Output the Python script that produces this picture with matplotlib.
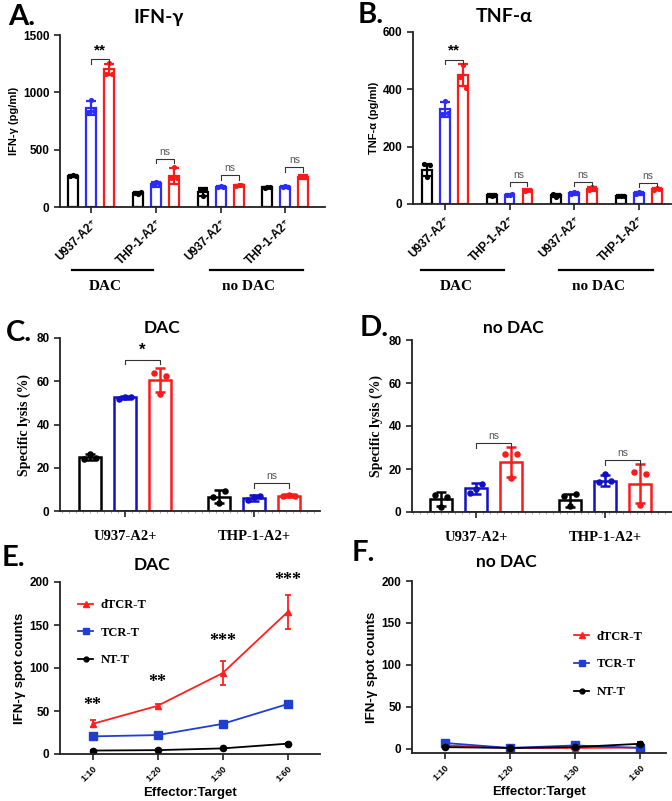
import numpy as np
import matplotlib.pyplot as plt
from matplotlib.lines import Line2D

W, H = 672, 801

SANS = ['Liberation Sans', 'DejaVu Sans']
SERIF = ['Liberation Serif', 'DejaVu Serif']
TITLE = ['Lato', 'DejaVu Sans']

# ---------- data ----------
groups = ['DAC', 'no DAC']
cells_ab = ['U937-A2⁺', 'THP-1-A2⁺', 'U937-A2⁺', 'THP-1-A2⁺']
cells_cd = ['U937-A2+', 'THP-1-A2+']
series = ['NT-T', 'TCR-T', 'dTCR-T']

# A: IFN-g (pg/ml); rows = cell groups, cols = NT-T, TCR-T, dTCR-T
ifn_mean = np.array([[272, 865, 1200], [123, 200, 270], [130, 178, 188], [172, 178, 262]])
ifn_err = np.array([[10, 60, 50], [12, 22, 70], [35, 6, 6], [6, 6, 15]])
ifn_dots = np.array([
    [[268, 280, 270], [832, 930, 840], [1159, 1252, 1160]],
    [[125, 115, 130], [195, 220, 205], [252, 350, 255]],
    [[160, 93, 157], [176, 180, 178], [186, 190, 188]],
    [[170, 175, 172], [175, 180, 178], [258, 270, 262]],
])

# B: TNF-a (pg/ml)
tnf_mean = np.array([[118, 330, 450], [30, 32, 48], [30, 38, 52], [28, 38, 52]])
tnf_err = np.array([[20, 25, 38], [4, 3, 4], [5, 5, 6], [2, 5, 4]])
tnf_dots = np.array([
    [[138, 95, 135], [315, 358, 318], [443, 484, 406]],
    [[32, 28, 30], [31, 33, 34], [46, 50, 48]],
    [[35, 25, 30], [35, 42, 37], [48, 58, 52]],
    [[28, 28, 28], [35, 42, 38], [50, 55, 52]],
])

# C: specific lysis (%), DAC
lysis_dac_mean = np.array([[25, 52.5, 60.5], [6.5, 6, 7]])
lysis_dac_err = np.array([[1.2, 0.8, 5.5], [3, 1.5, 0.7]])
lysis_dac_dots = np.array([
    [[24.2, 26.3, 24.6], [51.7, 52.8, 52.6], [64, 54, 62.5]],
    [[6.6, 3.5, 9.2], [5, 6.5, 7], [7, 7.5, 6.8]],
])

# D: specific lysis (%), no DAC
lysis_nodac_mean = np.array([[6, 11, 23.3], [5.5, 14.5, 13.2]])
lysis_nodac_err = np.array([[3.3, 2.5, 6.8], [3, 2.5, 9]])
lysis_nodac_dots = np.array([
    [[7.8, 2.3, 7.0], [8.9, 10.5, 13.2], [27.2, 16, 27.2]],
    [[7.3, 2.6, 8.2], [14, 17.5, 14.3], [18.8, 3.1, 17.8]],
])

# E/F: ELISpot IFN-g spot counts
et_ratio = ['1:10', '1:20', '1:30', '1:60']
spot_dac = {
    'dTCR-T': ([35, 56, 94, 165], [4, 2, 14, 20]),
    'TCR-T': ([20.5, 22, 35, 58], [1.5, 2.5, 3, 1.5]),
    'NT-T': ([4, 4.5, 6.5, 12], [0.5, 1.5, 0.5, 0.5]),
}
spot_nodac = {
    'dTCR-T': ([4, 1, 1, 1.5], [1, 0.5, 0.5, 0.5]),
    'TCR-T': ([7, 1, 4, 1], [3, 0.5, 2, 1]),
    'NT-T': ([2, 1, 2, 6], [0.5, 0.5, 0.5, 2]),
}
e_stars = ['**', '**', '***', '***']
e_star_y = [47, 73, 121, 192]

# ---------- figure ----------
fig = plt.figure(figsize=(W / 100, H / 100), dpi=100)


def px_axes(x0, y0, x1, y1):
    return fig.add_axes([x0 / W, 1 - y1 / H, (x1 - x0) / W, (y1 - y0) / H])


def style_axes(ax, fs=8.5):
    for s in ['top', 'right']:
        ax.spines[s].set_visible(False)
    for s in ['left', 'bottom']:
        ax.spines[s].set_linewidth(1.3)
        ax.spines[s].set_color('#222222')
    ax.tick_params(width=1.2, length=4, color='#222222')
    for lab in ax.get_yticklabels():
        lab.set_fontfamily(SANS)
        lab.set_fontweight('bold')
        lab.set_fontsize(fs)


def bars(ax, pos, mean, err, dots, width, cols, lw, ms):
    offs = np.array([-0.28, 0.0, 0.28]) * width
    for j in range(3):
        ax.bar(pos[:, j], mean[:, j], width, facecolor='white', edgecolor=cols[j],
               linewidth=lw, zorder=2)
        ax.errorbar(pos[:, j], mean[:, j], yerr=err[:, j], fmt='none', ecolor=cols[j],
                    elinewidth=lw, capsize=width * 6, capthick=lw, zorder=3)
        for k in range(3):
            ax.scatter(pos[:, j] + offs[k], dots[:, j, k], s=ms, color=cols[j],
                       zorder=4, linewidths=0)


def bracket(ax, x1, x2, y, h, text, fs=7.5, bold=False, color='#555555', family=SANS):
    ax.plot([x1, x1, x2, x2], [y - h, y, y, y - h], color='#333333', lw=0.8, zorder=5)
    ax.annotate(text, xy=((x1 + x2) / 2, y), xytext=(0, 1.5), textcoords='offset points',
                ha='center', va='bottom', fontsize=fs, color=color,
                fontweight='bold' if bold else 'normal', family=family)


def letter(x, y, s):
    fig.text(x / W, 1 - y / H, s, fontsize=21, fontweight='bold', family=TITLE,
             ha='left', va='center')


def title(x, y, s, fs=14):
    fig.text(x / W, 1 - y / H, s, fontsize=fs, fontweight='bold', family=TITLE,
             ha='center', va='center')


# ---------- A / B ----------
colors_ab = ['black', '#2b2bff', '#ff1a1a']
pos_ab = np.arange(4)[:, None] * 3.6 + np.arange(3)[None, :]

for (x0, x1, top, bot, xl, mean, err, dots, yt, ylab, brs, stars) in [
    (60, 325, 35, 207, (-0.72, 14.0), ifn_mean, ifn_err, ifn_dots, [0, 500, 1000, 1500],
     'IFN-γ (pg/ml)', [(420, 'ns'), (275, 'ns'), (345, 'ns')], (1290, 40)),
    (413, 671, 32, 204, (-0.78, 13.6), tnf_mean, tnf_err, tnf_dots, [0, 200, 400, 600],
     'TNF-α (pg/ml)', [(78, 'ns'), (78, 'ns'), (74, 'ns')], (503, 15)),
]:
    ax = px_axes(x0, top, x1, bot)
    bars(ax, pos_ab, mean, err, dots, 0.55, colors_ab, 1.6, 14)
    ax.set_xlim(*xl)
    ax.set_ylim(0, yt[-1])
    ax.set_yticks(yt)
    ax.set_xticks(pos_ab[:, 1])
    ax.set_xticklabels(cells_ab, rotation=45, ha='right', rotation_mode='anchor',
                       fontsize=8.5, fontweight='bold', family=SANS)
    style_axes(ax)
    ax.set_ylabel(ylab, fontsize=8, fontweight='bold', family=SANS, labelpad=3)
    hb = yt[-1] * 0.027
    bracket(ax, pos_ab[0, 1], pos_ab[0, 2], stars[0], hb, '**', fs=11, bold=True,
            color='black')
    for g, (yb, t) in zip([1, 2, 3], brs):
        bracket(ax, pos_ab[g, 1], pos_ab[g, 2], yb, hb, t)

title(159, 17, 'IFN-γ')
title(504, 16, 'TNF-α')
letter(8, 17, 'A.')
letter(358, 15, 'B.')

# group underlines
for (a, b, cx, lab) in [(72, 153, 105, 'DAC'), (210, 303, 248, 'no DAC'),
                        (421, 504, 456, 'DAC'), (559, 653, 598, 'no DAC')]:
    fig.add_artist(Line2D([a / W, b / W], [1 - 270 / H] * 2, color='black', lw=1.6))
    fig.text(cx / W, 1 - 286 / H, lab, fontsize=11, fontweight='bold', family=SERIF,
             ha='center', va='center')

# ---------- C / D ----------
colors_cd = ['black', '#1010c8', '#ff1a1a']
pos_cd = np.arange(2)[:, None] * 3.69 + np.arange(3)[None, :]

for (x0, x1, top, bot, xl, mean, err, dots, brs) in [
    (60, 320, 338, 511, (-0.86, 6.57), lysis_dac_mean, lysis_dac_err, lysis_dac_dots,
     [(70, '*', 12, True, 'black'), (12.8, 'ns', 7.5, False, '#555555')]),
    (412, 672, 340, 512, (-0.83, 6.6), lysis_nodac_mean, lysis_nodac_err, lysis_nodac_dots,
     [(32, 'ns', 7.5, False, '#555555'), (24, 'ns', 7.5, False, '#555555')]),
]:
    ax = px_axes(x0, top, x1, bot)
    bars(ax, pos_cd, mean, err, dots, 0.63, colors_cd, 1.8, 22)
    ax.set_xlim(*xl)
    ax.set_ylim(0, 80)
    ax.set_yticks([0, 20, 40, 60, 80])
    ax.set_xticks(pos_cd[:, 1])
    ax.set_xticklabels(cells_cd, fontsize=10.5, fontweight='bold', family=SERIF)
    ax.set_xticks(np.arange(-0.8, 6.6, 0.2), minor=True)
    ax.tick_params(axis='x', which='minor', length=1.5, width=0.6, color='#999999')
    style_axes(ax)
    ax.tick_params(axis='x', which='major', pad=10)
    ax.set_ylabel('Specific lysis (%)', fontsize=10, fontweight='bold', family=SERIF,
                  labelpad=4)
    for g, (yb, t, fs, bold, col) in enumerate(brs):
        bracket(ax, pos_cd[g, 1], pos_cd[g, 2], yb, 2.2, t, fs=fs, bold=bold, color=col)

letter(6, 333, 'C.')
title(162, 328, 'DAC', fs=12.5)
letter(360, 328, 'D.')
title(513, 328, 'no DAC', fs=12.5)

# ---------- E / F ----------
line_style = {
    'dTCR-T': dict(color='#ff2020', marker='^', ms=5),
    'TCR-T': dict(color='#1f3fd0', marker='s', ms=5.5),
    'NT-T': dict(color='black', marker='o', ms=4.5),
}

for (x0, x1, top, bot, ylim, data, leg_anchor, stars) in [
    (60, 320, 582, 754, (0, 200), spot_dac, (0.05, 0.93), True),
    (412, 666, 581, 753, (-5, 200), spot_nodac, (0.62, 0.74), False),
]:
    ax = px_axes(x0, top, x1, bot)
    xs = np.arange(len(et_ratio))
    handles = []
    for name in ['dTCR-T', 'TCR-T', 'NT-T']:
        m, e = data[name]
        st = line_style[name]
        ax.errorbar(xs, m, yerr=e, color=st['color'], marker=st['marker'], ms=st['ms'],
                    lw=1.3, elinewidth=1.3, capsize=2.5, capthick=1.3)
        handles.append(Line2D([], [], color=st['color'], marker=st['marker'],
                              ms=st['ms'] - 1, lw=1.3, label=name))
    ax.set_xlim(-0.5, 3.5 if stars else 3.4)
    ax.set_ylim(*ylim)
    ax.set_yticks([0, 50, 100, 150, 200])
    ax.set_xticks(xs)
    ax.set_xticklabels(et_ratio, rotation=45, ha='right', rotation_mode='anchor',
                       fontsize=6.5, fontweight='bold', family=SANS)
    style_axes(ax)
    ax.set_ylabel('IFN-γ spot counts', fontsize=9.5, fontweight='bold', family=SANS,
                  labelpad=3)
    ax.set_xlabel('Effector:Target', fontsize=9.5, fontweight='bold', family=SANS)
    ax.xaxis.set_label_coords(0.5, -0.19)
    ax.legend(handles=handles, loc='upper left', bbox_to_anchor=leg_anchor,
              frameon=False, handlelength=1.2, handletextpad=0.6,
              labelspacing=1.25, borderaxespad=0,
              prop=dict(family=SERIF, weight='bold', size=9))
    if stars:
        for x, s, y in zip(xs, e_stars, e_star_y):
            ax.text(x, y, s, ha='center', va='bottom', fontsize=13, fontweight='bold',
                    family=SERIF)

letter(2, 558, 'E.')
title(152, 565, 'DAC', fs=12.5)
letter(352, 553, 'F.')
title(506, 562, 'no DAC', fs=12.5)

fig.savefig('out.png', dpi=100)
